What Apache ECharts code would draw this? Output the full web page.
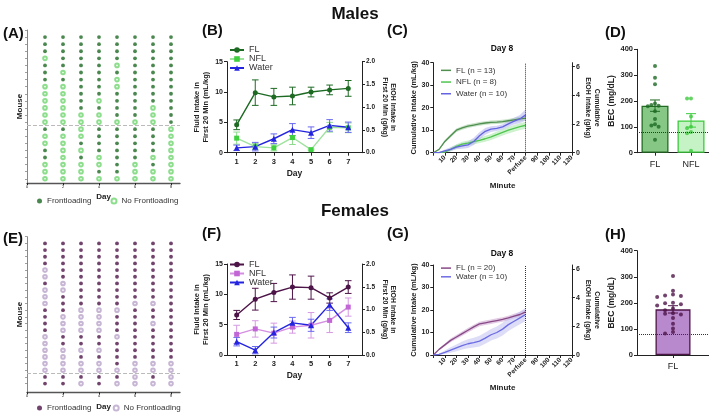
<!DOCTYPE html>
<html><head><meta charset="utf-8">
<script src="https://cdn.jsdelivr.net/npm/echarts@6/dist/echarts.min.js"></script>
<style>html,body{margin:0;padding:0;background:#fff}#c{width:709px;height:415px}</style>
</head><body><div id="c"></div><script>
const FONT = 'Liberation Sans, Arial, Helvetica, sans-serif';

// ---------- Panel A / E : frontloading status (1 = frontloading, 0 = not), one string per day, rows top->bottom
const gridDays = [1, 2, 3, 4, 5, 6, 7, 8];
const maleStatus = [
  '1110111000000' + '10011000',
  '1111101000000' + '10000000',
  '1111111111100' + '00101000',
  '1111111110100' + '11110010',
  '1111010011110' + '11111110',
  '1111111111110' + '11111000',
  '1111111111000' + '11110100',
  '1111111111111' + '00000000'
];
const femaleStatus = [
  '11110010001111000000' + '11',
  '11111100111000110000' + '11',
  '11111111110000110100' + '10',
  '11111111110000110100' + '11',
  '11111111110111011110' + '10',
  '11111111101111111100' + '00',
  '11111111101101111100' + '10',
  '11111111111111111100' + '00'
];
const maleSplit = 13.5, femaleSplit = 20.5;
const gridXTicks = [0, 2, 4, 6, 8];

// ---------- Panel B / F : first 20 min intake
const days = [1, 2, 3, 4, 5, 6, 7];
const mFL = [4.6, 9.9, 9.2, 9.35, 10.0, 10.35, 10.6];
const mFLsem = [0.8, 2.1, 1.4, 1.45, 0.8, 0.8, 1.3];
const mNFL = [2.4, 1.0, 0.8, 2.5, 0.5, 4.2, 4.1];
const mNFLsem = [1.0, 0.5, 0.5, 1.15, 0.1, 0.8, 0.8];
const mW = [0.8, 1.0, 2.3, 3.8, 3.3, 4.5, 4.2];
const mWsem = [0.45, 0.7, 0.8, 1.0, 0.95, 0.95, 0.85];

const fFL = [6.6, 9.2, 10.3, 11.2, 11.1, 9.4, 11.2];
const fFLsem = [0.75, 1.8, 1.5, 2.0, 1.9, 0.85, 1.05];
const fNFL = [3.4, 4.3, 3.6, 4.6, 4.9, 5.7, 7.9];
const fNFLsem = [1.5, 1.35, 1.65, 1.0, 2.1, 2.0, 1.5];
const fW = [2.2, 0.8, 3.7, 5.3, 4.9, 8.3, 4.5];
const fWsem = [0.7, 0.6, 0.9, 0.9, 1.0, 0.95, 0.8];

// ---------- Panel C / G : cumulative intake on day 8
const minutes = [0, 5, 10, 15, 20, 25, 30, 35, 40, 45, 50, 55, 60, 65, 70, 75, 80];
const cFL  = [0, 1.5, 5.0, 7.5, 10.0, 11.0, 11.8, 12.3, 12.8, 13.2, 13.5, 13.6, 13.8, 14.2, 14.6, 15.0, 15.4];
const cFLsem = [0, 0.3, 0.6, 0.7, 0.8, 0.8, 0.8, 0.8, 0.8, 0.8, 0.8, 0.8, 0.8, 0.8, 0.9, 1.0, 1.0];
const cNFL = [0, 0, 0.3, 1.5, 2.8, 3.8, 4.3, 4.9, 5.5, 6.2, 7.0, 8.0, 9.0, 10.0, 10.8, 11.6, 12.2];
const cNFLsem = [0, 0, 0.3, 0.8, 1.0, 1.1, 1.1, 1.2, 1.2, 1.3, 1.3, 1.4, 1.4, 1.5, 1.5, 1.5, 1.6];
const cW   = [0, 0, 0.8, 1.5, 2.5, 3.0, 3.5, 5.0, 7.5, 9.5, 10.5, 10.8, 11.5, 12.8, 14.0, 15.0, 16.8];
const cWsem = [0, 0.2, 0.6, 0.9, 1.0, 1.2, 1.4, 1.6, 1.6, 1.5, 1.3, 1.2, 1.2, 1.3, 1.5, 1.8, 2.5];

const gFL  = [0, 2.5, 4.5, 6.5, 8.0, 9.5, 11.0, 12.5, 13.8, 14.3, 14.8, 15.3, 15.8, 16.5, 17.3, 18.0, 19.2];
const gFLsem = [0, 0.4, 0.6, 0.8, 0.9, 0.9, 1.0, 1.0, 1.0, 1.0, 1.0, 1.0, 1.0, 1.0, 1.0, 1.1, 1.3];
const gW   = [0, 0.3, 1.2, 2.2, 3.2, 4.2, 5.0, 5.5, 6.2, 7.5, 9.0, 10.0, 11.5, 13.5, 15.0, 16.5, 18.0];
const gWsem = [0, 0.3, 0.8, 1.2, 1.5, 1.8, 2.0, 2.2, 2.4, 2.5, 2.6, 2.7, 2.8, 2.8, 2.8, 2.8, 2.9];

// ---------- Panel D / H : BEC
const becCatsM = ['FL', 'NFL'];
const becMeanM = [182, 125];
const becSemM = [22, 26];
const becFLm = [335, 290, 265, 190, 185, 182, 180, 160, 130, 110, 105, 100, 50];
const becNFLm = [210, 210, 140, 100, 95, 80, 75, 8];
const becCatsF = ['FL'];
const becMeanF = [175];
const becSemF = [14];
const becFLf = [303, 246, 232, 228, 226, 222, 200, 198, 195, 190, 178, 172, 160, 158, 155, 142, 120, 102, 88, 82];
const becThreshold = 80;

// ---------------- helpers ----------------
const C = {
  mDark: '#1d6a23', mLight: '#6fd46f', blue: '#2424e0',
  fDark: '#4d1448', fNFL: '#c266d6', fOpen: '#b9a3c9'
};
function dots(status, filled) {
  const out = [];
  status.forEach((col, d) => {
    for (let r = 0; r < col.length; r++) if ((col[r] === '1') === filled) out.push([gridDays[d], r + 1]);
  });
  return out;
}
function errRender(cap) {
  return function (params, api) {
    const x = api.value(0), lo = api.value(1), hi = api.value(2);
    const p1 = api.coord([x, lo]), p2 = api.coord([x, hi]);
    const style = { stroke: api.visual('color'), lineWidth: 1 };
    return { type: 'group', children: [
      { type: 'line', shape: { x1: p1[0], y1: p1[1], x2: p2[0], y2: p2[1] }, style },
      { type: 'line', shape: { x1: p1[0] - cap, y1: p1[1], x2: p1[0] + cap, y2: p1[1] }, style },
      { type: 'line', shape: { x1: p2[0] - cap, y1: p2[1], x2: p2[0] + cap, y2: p2[1] }, style }
    ] };
  };
}
function errSeries(xi, yi, xs, mean, sem, color, cap) {
  return { type: 'custom', xAxisIndex: xi, yAxisIndex: yi, renderItem: errRender(cap), clip: false,
    itemStyle: { color }, encode: { x: 0, y: [1, 2] }, silent: true, z: 2,
    data: xs.map((x, i) => [x, mean[i] - sem[i], mean[i] + sem[i]]) };
}
function lineSeries(name, xi, yi, mean, color, lineColor, symbol, size) {
  return { name, type: 'line', xAxisIndex: xi, yAxisIndex: yi, symbol, symbolSize: size,
    itemStyle: { color }, lineStyle: { color: lineColor, width: 1.4 }, z: 3,
    data: days.map((d, i) => [d, mean[i]]) };
}
function bandSeries(xi, yi, mean, sem, color) {
  const data = minutes.map((m, i) => [m, mean[i] - sem[i], mean[i] + sem[i]]);
  return { type: 'custom', xAxisIndex: xi, yAxisIndex: yi, silent: true, z: 1, encode: { x: 0, y: [1, 2] }, data,
    renderItem(params, api) {
      if (params.dataIndex !== 0) return null;
      const up = data.map(d => api.coord([d[0], d[2]]));
      const lo = data.map(d => api.coord([d[0], d[1]])).reverse();
      return { type: 'polygon', shape: { points: up.concat(lo) }, style: { fill: color, opacity: 0.5 } };
    } };
}
function meanLine(name, xi, yi, mean, color) {
  return { name, type: 'line', xAxisIndex: xi, yAxisIndex: yi, symbol: 'none', z: 4,
    lineStyle: { color, width: 1.3 }, itemStyle: { color }, data: minutes.map((m, i) => [m, mean[i]]) };
}
function swarm(vals, tol, step) {
  const placed = [];
  const order = [0, -1, 1, -2, 2, -3, 3];
  return vals.map(v => {
    let k = 0;
    for (const o of order) {
      if (!placed.some(p => p.o === o && Math.abs(p.v - v) < tol)) { k = o; break; }
    }
    placed.push({ v, o: k });
    return k * step;
  });
}
function swarmData(vals, center, tol, step) {
  const offs = swarm(vals, tol, step);
  return vals.map((v, i) => [center + offs[i], v]);
}

const axLine = { show: true, onZero: false, lineStyle: { color: '#222', width: 1 } };
const axTick = (extra) => Object.assign({ show: true, length: 3, lineStyle: { color: '#222', width: 1 } }, extra || {});
const tl = (size, bold, extra) => Object.assign({ fontFamily: FONT, fontSize: size, fontWeight: bold ? 'bold' : 'normal', color: '#222' }, extra || {});
const nm = (size, extra) => Object.assign({ fontFamily: FONT, fontSize: size, fontWeight: 'bold', color: '#222' }, extra || {});
const noSplit = { show: false };

const grids = [
  { left: 27, top: 30, width: 153, height: 153 },
  { left: 227, top: 61.7, width: 135, height: 91 },
  { left: 433.3, top: 62.7, width: 138.6, height: 90 },
  { left: 637, top: 49.3, width: 73, height: 103.4 },
  { left: 27, top: 236.7, width: 153, height: 155.6 },
  { left: 227, top: 264, width: 135, height: 91 },
  { left: 433.3, top: 265, width: 138.6, height: 90 },
  { left: 637, top: 250.7, width: 73, height: 104.3 }
];

function gridX(gi) {
  return { gridIndex: gi, type: 'value', min: 0, max: 8.5, axisLine: { show: true, onZero: false, lineStyle: { color: '#555', width: 1.3 } },
    axisTick: axTick({ customValues: gridXTicks, length: 2 }), axisLabel: { customValues: gridXTicks, ...tl(4, false), margin: 2 },
    splitLine: noSplit, name: 'Day', nameLocation: 'middle', nameGap: 10, nameTextStyle: nm(8) };
}
function gridY(gi, max, n) {
  const ticks = []; for (let i = 0; i <= n; i++) ticks.push(i);
  return { gridIndex: gi, type: 'value', inverse: true, min: 0, max, axisLine: { show: true, onZero: false, lineStyle: { color: '#888', width: 1 } },
    axisTick: axTick({ customValues: ticks, length: 2, lineStyle: { color: '#888', width: 0.8 } }), axisLabel: { show: false },
    splitLine: noSplit, name: 'Mouse', nameLocation: 'middle', nameGap: 3, nameTextStyle: nm(8) };
}
function dayX(gi) {
  return { gridIndex: gi, type: 'value', min: 0.48, max: 7.74, axisLine: axLine,
    axisTick: axTick({ customValues: days }), axisLabel: { customValues: days, ...tl(7.5, true), margin: 5 },
    splitLine: noSplit, name: 'Day', nameLocation: 'middle', nameGap: 16, nameTextStyle: nm(8.5) };
}
function fluidY(gi) {
  return { gridIndex: gi, type: 'value', min: 0, max: 15, interval: 5, axisLine: axLine, axisTick: axTick(),
    axisLabel: { ...tl(7, true), margin: 4 }, splitLine: noSplit,
    name: 'Fluid Intake in\nFirst 20 Min (mL/kg)', nameLocation: 'middle', nameGap: 17, nameTextStyle: nm(7.5, { lineHeight: 9 }) };
}
function etohY(gi) {
  return { gridIndex: gi, type: 'value', position: 'right', min: 0, max: 2, interval: 0.5, axisLine: axLine, axisTick: axTick(),
    axisLabel: { ...tl(6.5, true), margin: 4, formatter: v => v.toFixed(1) }, splitLine: noSplit,
    name: 'EtOH Intake in\nFirst 20 Min (g/kg)', nameLocation: 'middle', nameRotate: -90, nameGap: 19, nameTextStyle: nm(7, { lineHeight: 8 }) };
}
function minuteX(gi) {
  return { gridIndex: gi, type: 'value', min: 0, max: 120, interval: 10, axisLine: axLine, axisTick: axTick(),
    axisLabel: { ...tl(6.5, true), rotate: 45, margin: 4, formatter: v => v === 0 ? '' : (v === 80 ? 'Perfuse' : String(v)) },
    splitLine: noSplit, name: 'Minute', nameLocation: 'middle', nameGap: 29, nameTextStyle: nm(8) };
}
function cumY(gi) {
  return { gridIndex: gi, type: 'value', min: 0, max: 40, interval: 10, axisLine: axLine, axisTick: axTick(),
    axisLabel: { ...tl(7, true), margin: 4 }, splitLine: noSplit,
    name: 'Cumulative Intake (mL/kg)', nameLocation: 'middle', nameGap: 12, nameTextStyle: nm(7.5) };
}
function cumEtohY(gi) {
  return { gridIndex: gi, type: 'value', position: 'right', min: 0, max: 6.28, axisLine: axLine,
    axisTick: axTick({ customValues: [0, 2, 4, 6] }), axisLabel: { customValues: [0, 2, 4, 6], ...tl(7, true), margin: 4 }, splitLine: noSplit,
    name: 'Cumulative\nEtOH Intake (g/kg)', nameLocation: 'middle', nameRotate: -90, nameGap: 12, nameTextStyle: nm(7, { lineHeight: 9 }) };
}
function becCatX(gi, cats) {
  return { gridIndex: gi, type: 'category', data: cats, axisLine: axLine, axisTick: axTick({ alignWithLabel: true }),
    axisLabel: { ...tl(9, false), margin: 7 }, splitLine: noSplit };
}
function becValX(gi, n) {
  return { gridIndex: gi, type: 'value', min: -0.5, max: n - 0.5, show: false, axisLine: { show: false, onZero: false } };
}
function becY(gi) {
  return { gridIndex: gi, type: 'value', min: 0, max: 400, interval: 100, axisLine: axLine, axisTick: axTick(),
    axisLabel: { ...tl(7.5, true), margin: 4 }, splitLine: noSplit,
    name: 'BEC (mg/dL)', nameLocation: 'middle', nameGap: 20, nameTextStyle: nm(8.5) };
}

const xAxis = [
  gridX(0), dayX(1), minuteX(2), becCatX(3, becCatsM), becValX(3, 2),
  gridX(4), dayX(5), minuteX(6), becCatX(7, becCatsF), becValX(7, 1)
];
const yAxis = [
  gridY(0, 21.6, 21), fluidY(1), etohY(1), cumY(2), cumEtohY(2), becY(3),
  gridY(4, 23.3, 22), fluidY(5), etohY(5), cumY(6), cumEtohY(6), becY(7)
];

const dotted80 = () => ({ silent: true, symbol: 'none', label: { show: false }, lineStyle: { type: 'dotted', color: '#333', width: 1 }, data: [{ yAxis: becThreshold }] });
const perfuseLine = () => ({ silent: true, symbol: 'none', label: { show: false }, lineStyle: { type: 'dotted', color: '#333', width: 1 }, data: [{ xAxis: 80 }] });

const series = [
  // A
  { name: 'Frontloading', type: 'scatter', xAxisIndex: 0, yAxisIndex: 0, symbol: 'circle', symbolSize: 3.8,
    itemStyle: { color: C.mDark }, data: dots(maleStatus, true),
    markLine: { silent: true, symbol: 'none', label: { show: false }, lineStyle: { type: 'dashed', color: '#bbb', width: 1 }, data: [{ yAxis: maleSplit }] } },
  { name: 'No Frontloading', type: 'scatter', xAxisIndex: 0, yAxisIndex: 0, symbol: 'emptyCircle', symbolSize: 3.6,
    itemStyle: { color: C.mLight, borderWidth: 0.9 }, data: dots(maleStatus, false) },
  // B
  errSeries(1, 1, days, mFL, mFLsem, C.mDark, 3.3),
  errSeries(1, 1, days, mNFL, mNFLsem, '#8edb8e', 3.3),
  errSeries(1, 1, days, mW, mWsem, '#6a6af0', 3.3),
  lineSeries('FL', 1, 1, mFL, C.mDark, C.mDark, 'circle', 5),
  lineSeries('NFL', 1, 1, mNFL, '#3fcf3f', '#9ee29e', 'rect', 5),
  lineSeries('Water', 1, 1, mW, C.blue, C.blue, 'triangle', 6),
  // C
  bandSeries(2, 3, cFL, cFLsem, '#8fc48f'),
  bandSeries(2, 3, cNFL, cNFLsem, '#9ee59e'),
  bandSeries(2, 3, cW, cWsem, '#aaaaf0'),
  Object.assign(meanLine('FL (n = 13)', 2, 3, cFL, '#4f8f4f'), { markLine: perfuseLine() }),
  meanLine('NFL (n = 8)', 2, 3, cNFL, '#4fc64f'),
  meanLine('Water (n = 10)', 2, 3, cW, '#6464e0'),
  // D
  { type: 'bar', xAxisIndex: 3, yAxisIndex: 5, barWidth: 27, z: 2, markLine: dotted80(),
    data: [
      { value: becMeanM[0], itemStyle: { color: '#86c786', borderColor: '#236b23', borderWidth: 1.3 } },
      { value: becMeanM[1], itemStyle: { color: '#c6f3c6', borderColor: '#3dca3d', borderWidth: 1.3 } }
    ] },
  { type: 'custom', xAxisIndex: 4, yAxisIndex: 5, renderItem: errRender(5), clip: false, itemStyle: { color: '#236b23' }, encode: { x: 0, y: [1, 2] }, z: 3,
    data: [[0, becMeanM[0] - becSemM[0], becMeanM[0] + becSemM[0]]] },
  { type: 'custom', xAxisIndex: 4, yAxisIndex: 5, renderItem: errRender(5), clip: false, itemStyle: { color: '#3dca3d' }, encode: { x: 0, y: [1, 2] }, z: 3,
    data: [[1, becMeanM[1] - becSemM[1], becMeanM[1] + becSemM[1]]] },
  { type: 'scatter', xAxisIndex: 4, yAxisIndex: 5, symbolSize: 4, z: 4, itemStyle: { color: C.mDark }, data: swarmData(becFLm, 0, 12, 0.1) },
  { type: 'scatter', xAxisIndex: 4, yAxisIndex: 5, symbolSize: 4, z: 4, itemStyle: { color: '#3dca3d' }, data: swarmData(becNFLm, 1, 12, 0.11) },
  // E
  { name: 'Frontloading ', type: 'scatter', xAxisIndex: 5, yAxisIndex: 6, symbol: 'circle', symbolSize: 3.8,
    itemStyle: { color: C.fDark }, data: dots(femaleStatus, true),
    markLine: { silent: true, symbol: 'none', label: { show: false }, lineStyle: { type: 'dashed', color: '#bbb', width: 1 }, data: [{ yAxis: femaleSplit }] } },
  { name: 'No Frontloading ', type: 'scatter', xAxisIndex: 5, yAxisIndex: 6, symbol: 'emptyCircle', symbolSize: 3.6,
    itemStyle: { color: C.fOpen, borderWidth: 0.9 }, data: dots(femaleStatus, false) },
  // F
  errSeries(6, 7, days, fFL, fFLsem, C.fDark, 3.3),
  errSeries(6, 7, days, fNFL, fNFLsem, '#d59ae2', 3.3),
  errSeries(6, 7, days, fW, fWsem, '#6a6af0', 3.3),
  lineSeries('FL ', 6, 7, fFL, C.fDark, C.fDark, 'circle', 5),
  lineSeries('NFL ', 6, 7, fNFL, C.fNFL, '#d48ee2', 'rect', 5),
  lineSeries('Water ', 6, 7, fW, C.blue, C.blue, 'triangle', 6),
  // G
  bandSeries(7, 9, gFL, gFLsem, '#c595c9'),
  bandSeries(7, 9, gW, gWsem, '#bcbcf2'),
  Object.assign(meanLine('FL (n = 20)', 7, 9, gFL, '#874a87'), { markLine: perfuseLine() }),
  meanLine('Water (n = 10) ', 7, 9, gW, '#6c6ce4'),
  // H
  { type: 'bar', xAxisIndex: 8, yAxisIndex: 11, barWidth: 35, z: 2, markLine: dotted80(),
    data: [{ value: becMeanF[0], itemStyle: { color: '#b889cc', borderColor: C.fDark, borderWidth: 1.3 } }] },
  { type: 'custom', xAxisIndex: 9, yAxisIndex: 11, renderItem: errRender(5), clip: false, itemStyle: { color: C.fDark }, encode: { x: 0, y: [1, 2] }, z: 3,
    data: [[0, becMeanF[0] - becSemF[0], becMeanF[0] + becSemF[0]]] },
  { type: 'scatter', xAxisIndex: 9, yAxisIndex: 11, symbolSize: 4, z: 4, itemStyle: { color: C.fDark }, data: swarmData(becFLf, 0, 14, 0.11) }
];

const legTxt = (size) => ({ fontFamily: FONT, fontSize: size, color: '#333' });
const legend = [
  { data: ['Frontloading', 'No Frontloading'], left: 37, top: 197, padding: 0, itemWidth: 5, itemHeight: 5, itemGap: 19, textStyle: legTxt(8), selectedMode: false },
  { data: ['FL', 'NFL', 'Water'], orient: 'vertical', left: 229, top: 45.5, padding: 0, itemWidth: 14, itemHeight: 7, itemGap: 0, textStyle: { ...legTxt(9), lineHeight: 8.5 }, selectedMode: false },
  { data: ['FL (n = 13)', 'NFL (n = 8)', 'Water (n = 10)'], orient: 'vertical', left: 441, top: 66, padding: 0, icon: 'rect', itemWidth: 10, itemHeight: 1.5, itemGap: 3, textStyle: { ...legTxt(8), lineHeight: 8.7 }, selectedMode: false },
  { data: ['Frontloading ', 'No Frontloading '], left: 37, top: 404, padding: 0, itemWidth: 5, itemHeight: 5, itemGap: 19, textStyle: legTxt(8), selectedMode: false },
  { data: ['FL ', 'NFL ', 'Water '], orient: 'vertical', left: 229, top: 260, padding: 0, itemWidth: 14, itemHeight: 7, itemGap: 0, textStyle: { ...legTxt(9), lineHeight: 8.5 }, selectedMode: false },
  { data: ['FL (n = 20)', 'Water (n = 10) '], orient: 'vertical', left: 441, top: 264, padding: 0, icon: 'rect', itemWidth: 10, itemHeight: 1.5, itemGap: 0.5, textStyle: { ...legTxt(8), lineHeight: 8.2 }, selectedMode: false }
];

function txt(text, x, y, size, align) {
  return { type: 'text', x, y, style: { text, font: 'bold ' + size + 'px ' + FONT, fill: '#111',
    align: align || 'left', verticalAlign: 'middle', textAlign: align || 'left', textVerticalAlign: 'middle' } };
}
const graphic = [
  txt('Males', 355, 14, 17, 'center'), txt('Females', 355, 211, 17, 'center'),
  txt('(A)', 3, 34, 15), txt('(B)', 202, 31, 15), txt('(C)', 387, 31, 15), txt('(D)', 605, 33, 15),
  txt('(E)', 3, 239, 15), txt('(F)', 202, 234, 15), txt('(G)', 387, 234, 15), txt('(H)', 605, 235, 15),
  txt('Day 8', 502, 49, 8.5, 'center'), txt('Day 8', 502, 254, 8.5, 'center')
];

const chart = echarts.init(document.getElementById('c'), null, { renderer: 'canvas' });
chart.setOption({ animation: false, backgroundColor: '#fff', textStyle: { fontFamily: FONT },
  grid: grids, xAxis, yAxis, series, legend, graphic });
</script></body></html>
